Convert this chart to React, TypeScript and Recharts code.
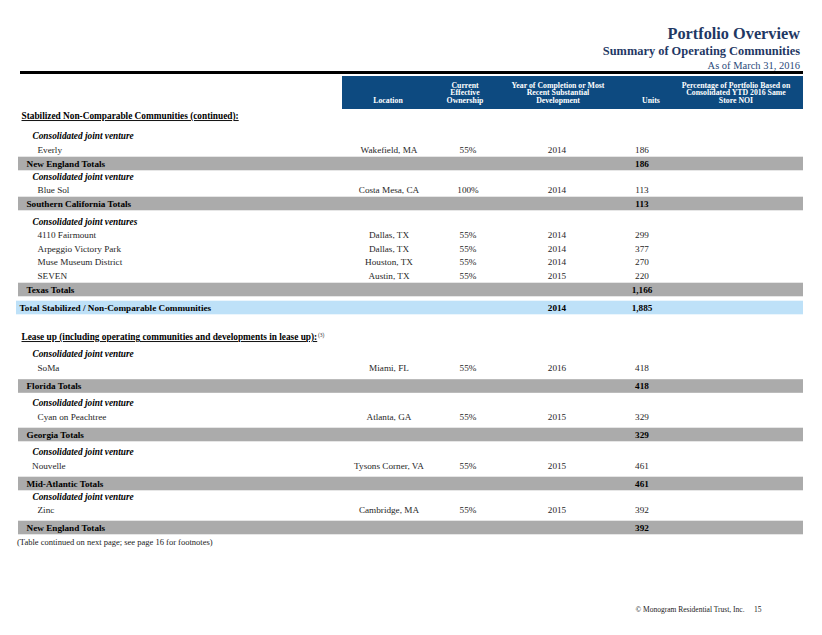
import React from 'react';
import { ComposedChart, Scatter, XAxis, YAxis, Customized } from 'recharts';

// ---------- data ----------
const stabilizedCommunities = ['Everly', 'Blue Sol', '4110 Fairmount', 'Arpeggio Victory Park', 'Muse Museum District', 'SEVEN'];
const stabilizedLocations = ['Wakefield, MA', 'Costa Mesa, CA', 'Dallas, TX', 'Dallas, TX', 'Houston, TX', 'Austin, TX'];
const stabilizedOwnership = [55, 100, 55, 55, 55, 55];
const stabilizedYears = [2014, 2014, 2014, 2014, 2014, 2015];
const stabilizedUnits = [186, 113, 299, 377, 270, 220];
const stabilizedRegionOf = [0, 1, 2, 2, 2, 2];
const stabilizedRegions = ['New England Totals', 'Southern California Totals', 'Texas Totals'];
const stabilizedRegionGroups = ['Consolidated joint venture', 'Consolidated joint venture', 'Consolidated joint ventures'];
const stabilizedRegionUnits = [186, 113, 1166];
const stabilizedTotalLabel = 'Total Stabilized / Non-Comparable Communities';
const stabilizedTotalYear = 2014;
const stabilizedTotalUnits = 1885;

const leaseCommunities = ['SoMa', 'Cyan on Peachtree', 'Nouvelle', 'Zinc'];
const leaseLocations = ['Miami, FL', 'Atlanta, GA', 'Tysons Corner, VA', 'Cambridge, MA'];
const leaseOwnership = [55, 55, 55, 55];
const leaseYears = [2016, 2015, 2015, 2015];
const leaseUnits = [418, 329, 461, 392];
const leaseRegionOf = [0, 1, 2, 3];
const leaseRegions = ['Florida Totals', 'Georgia Totals', 'Mid-Atlantic Totals', 'New England Totals'];
const leaseRegionGroups = ['Consolidated joint venture', 'Consolidated joint venture', 'Consolidated joint venture', 'Consolidated joint venture'];
const leaseRegionUnits = [418, 329, 461, 392];

const sectionTitles = ['Stabilized Non-Comparable Communities (continued):', 'Lease up (including operating communities and developments in lease up):'];
const sectionFootnoteRefs = ['', '(3)'];

const columnHeaders = [
  ['Location'],
  ['Current', 'Effective', 'Ownership'],
  ['Year of Completion or Most', 'Recent Substantial', 'Development'],
  ['Units'],
  ['Percentage of Portfolio Based on', 'Consolidated YTD 2016 Same', 'Store NOI'],
];

const pageTitle = 'Portfolio Overview';
const pageSubtitle = 'Summary of Operating Communities';
const pageDate = 'As of March 31, 2016';
const footnoteText = '(Table continued on next page; see page 16 for footnotes)';
const footerText = '\u00A9 Monogram Residential Trust, Inc.';
const pageNumber = '15';

// ---------- layout / style ----------
const W = 822;
const H = 635;
const FONT = '"Liberation Serif", "Times New Roman", serif';
const NAVY = '#1F3864';
const HEADER_BG = '#0D4A80';
const GRAY = '#ABABAB';
const LIGHT_BLUE = '#BEE1F8';
const TEXT = '#262626';
const TABLE_RIGHT = 803;
const COL = { loc: 389, own: 468, year: 557, units: 642 };
const HEADER_COL_X = [388, 465, 558, 651, 736];
// vertical spacing between consecutive rows (layout only)
const ROW_GAPS = [116, 20, 14, 13.5, 13, 13.5, 13.5, 18, 13.5, 13.5, 13.5, 13.5, 14, 18, 29.5, 17, 14, 18, 17, 13.5, 18, 17.5, 13.5, 18, 13, 13.5, 17.5, 14.5];

type Row = {
  kind: 'section' | 'group' | 'item' | 'total' | 'grand' | 'note';
  label: string;
  sup?: string;
  loc?: string;
  own?: string;
  year?: string;
  units?: string;
  x: number;
  y: number;
};

const fmt = (n: number) => n.toLocaleString('en-US');

function buildRows(): Row[] {
  const rows: Omit<Row, 'x' | 'y'>[] = [];
  const addSection = (
    si: number,
    names: string[], locs: string[], owns: number[], years: number[], units: number[],
    regionOf: number[], regions: string[], groups: string[], regionUnits: number[]
  ) => {
    rows.push({ kind: 'section', label: sectionTitles[si], sup: sectionFootnoteRefs[si] });
    regions.forEach((reg, r) => {
      rows.push({ kind: 'group', label: groups[r] });
      names.forEach((nm, i) => {
        if (regionOf[i] !== r) return;
        rows.push({ kind: 'item', label: nm, loc: locs[i], own: owns[i] + '%', year: String(years[i]), units: fmt(units[i]) });
      });
      rows.push({ kind: 'total', label: reg, units: fmt(regionUnits[r]) });
    });
  };
  addSection(0, stabilizedCommunities, stabilizedLocations, stabilizedOwnership, stabilizedYears, stabilizedUnits,
    stabilizedRegionOf, stabilizedRegions, stabilizedRegionGroups, stabilizedRegionUnits);
  rows.push({ kind: 'grand', label: stabilizedTotalLabel, year: String(stabilizedTotalYear), units: fmt(stabilizedTotalUnits) });
  addSection(1, leaseCommunities, leaseLocations, leaseOwnership, leaseYears, leaseUnits,
    leaseRegionOf, leaseRegions, leaseRegionGroups, leaseRegionUnits);
  rows.push({ kind: 'note', label: footnoteText });
  let acc = 0;
  return rows.map((r, i) => {
    acc += ROW_GAPS[i] ?? 13.5;
    return { ...r, x: 0, y: acc };
  });
}

const rowsData = buildRows();

const txt = (props: any) => ({ fontFamily: FONT, ...props });

function RowMark(props: any) {
  const cy: number = props.cy;
  const p: Row = props.payload ?? props;
  const base = cy + 3.1;
  const fs = 9.2;
  switch (p.kind) {
    case 'section':
      return (
        <g>
          <text x={21.5} y={base} {...txt({ fontSize: 9.3, fontWeight: 700, fill: '#000' })} textDecoration="underline">
            {p.label}
          </text>
          {p.sup ? (
            <text x={318} y={base - 3.5} {...txt({ fontSize: 5.5, fill: '#333' })}>{p.sup}</text>
          ) : null}
        </g>
      );
    case 'group':
      return (
        <text x={32.5} y={base} {...txt({ fontSize: 9.3, fontWeight: 700, fontStyle: 'italic', fill: '#000' })}>{p.label}</text>
      );
    case 'item':
      return (
        <g {...txt({ fontSize: fs, fill: TEXT })}>
          <text x={p.label === 'Nouvelle' ? 32 : 37.5} y={base}>{p.label}</text>
          <text x={COL.loc} y={base} textAnchor="middle">{p.loc}</text>
          <text x={COL.own} y={base} textAnchor="middle">{p.own}</text>
          <text x={COL.year} y={base} textAnchor="middle">{p.year}</text>
          <text x={COL.units} y={base} textAnchor="middle">{p.units}</text>
        </g>
      );
    case 'total':
      return (
        <g>
          <rect x={18} y={cy - 6.8} width={TABLE_RIGHT - 18} height={13.6} fill={GRAY} />
          <g {...txt({ fontSize: fs, fontWeight: 700, fill: '#000' })}>
            <text x={26.5} y={base}>{p.label}</text>
            <text x={COL.units} y={base} textAnchor="middle">{p.units}</text>
          </g>
        </g>
      );
    case 'grand':
      return (
        <g>
          <rect x={16} y={cy - 6.8} width={TABLE_RIGHT - 16} height={13.6} fill={LIGHT_BLUE} />
          <g {...txt({ fontSize: fs, fontWeight: 700, fill: '#000' })}>
            <text x={19.5} y={base}>{p.label}</text>
            <text x={COL.year} y={base} textAnchor="middle">{p.year}</text>
            <text x={COL.units} y={base} textAnchor="middle">{p.units}</text>
          </g>
        </g>
      );
    case 'note':
      return (
        <text x={17} y={base} {...txt({ fontSize: 8.5, fill: '#222' })}>{p.label}</text>
      );
    default:
      return <g />;
  }
}

function PageHeader() {
  return (
    <g>
      <text x={800} y={38.5} textAnchor="end" {...txt({ fontSize: 16.3, fontWeight: 700, fill: NAVY })}>{pageTitle}</text>
      <text x={800} y={54.5} textAnchor="end" {...txt({ fontSize: 12.4, fontWeight: 700, fill: NAVY })}>{pageSubtitle}</text>
      <text x={800} y={69.3} textAnchor="end" {...txt({ fontSize: 10.5, fill: '#2A4A7A' })}>{pageDate}</text>
      <rect x={20} y={71} width={TABLE_RIGHT - 20} height={3} fill="#000" />
      <rect x={342} y={76} width={TABLE_RIGHT - 342} height={33} fill={HEADER_BG} />
      <g {...txt({ fontSize: 7.8, fontWeight: 700, fill: '#fff' })} textAnchor="middle">
        {columnHeaders.map((lines, ci) =>
          lines.map((ln, li) => {
            const line = 3 - lines.length + li;
            return (
              <text key={ci + '-' + li} x={HEADER_COL_X[ci]} y={87.5 + line * 7.5}>{ln}</text>
            );
          })
        )}
      </g>
      <text x={635.5} y={612} {...txt({ fontSize: 7.5, fill: '#222' })}>{footerText}</text>
      <text x={754} y={612} {...txt({ fontSize: 7.5, fill: '#222' })}>{pageNumber}</text>
    </g>
  );
}

export default function App() {
  return (
    <div style={{ position: 'absolute', left: 0, top: 0, width: W, height: H, background: '#fff' }}>
      <ComposedChart width={W} height={H} data={rowsData} margin={{ top: 0, right: 0, bottom: 0, left: 0 }}>
        <XAxis type="number" dataKey="x" domain={[0, W]} hide />
        <YAxis type="number" dataKey="y" domain={[0, H]} reversed hide />
        <Customized component={PageHeader} />
        <Scatter data={rowsData} dataKey="y" isAnimationActive={false} shape={(p: any) => <RowMark {...p} />} />
      </ComposedChart>
    </div>
  );
}
